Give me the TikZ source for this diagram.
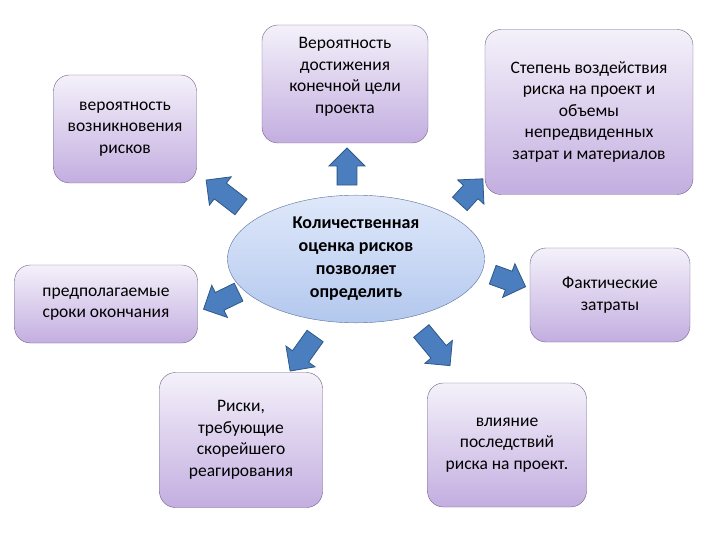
\documentclass[tikz,border=0pt]{standalone}
\usepackage{fontspec}
\setmainfont{Carlito}
\usetikzlibrary{shapes.geometric, shapes.arrows}
\definecolor{boxtop}{HTML}{F4F1FA}
\definecolor{boxbot}{HTML}{C3AEE0}
\definecolor{boxline}{HTML}{6E6288}
\definecolor{elltop}{HTML}{DFE8FA}
\definecolor{ellbot}{HTML}{B3C8EE}
\definecolor{ellline}{HTML}{5A6E98}
\definecolor{arrfill}{HTML}{4A7EBE}
\definecolor{arrline}{HTML}{2E5887}

\begin{document}
\begin{tikzpicture}[x=1pt, y=-1pt,
    card/.style={draw=boxline, top color=boxtop, bottom color=boxbot,
                 rounded corners=16pt, align=center, inner sep=2pt,
                 font=\fontsize{17.5}{21.5}\selectfont},
    blockarr/.style={single arrow, draw=arrline, fill=arrfill, line width=0.8pt,
                     inner xsep=0pt, inner ysep=9.5pt, minimum width=35pt,
                     single arrow head extend=8pt, single arrow head indent=0pt},
]
    \useasboundingbox (0,0) rectangle (720,540);

    % centre
    \node[ellipse, draw=ellline, top color=elltop, bottom color=ellbot,
          minimum width=257pt, minimum height=118pt, align=center,
          font=\fontsize{18}{23}\selectfont\bfseries] (core) at (356,259)
          {Количественная\\оценка рисков\\позволяет\\определить};

    % outer boxes
    \node[card, minimum width=143pt, minimum height=108pt] (origin) at (125,129)
          {вероятность\\возникновения\\рисков};
    \node[card, minimum width=166pt, minimum height=118pt] (goal) at (345,84)
          {Вероятность\\достижения\\конечной цели\\проекта\\[-4pt]};
    \node[card, minimum width=208pt, minimum height=165pt] (impact) at (589,112)
          {Степень воздействия\\риска на проект и\\объемы\\непредвиденных\\затрат и материалов};
    \node[card, minimum width=183pt, minimum height=78pt] (finish) at (106,304)
          {предполагаемые\\сроки окончания};
    \node[card, minimum width=160pt, minimum height=94pt] (costs) at (610,295)
          {Фактические\\затраты};
    \node[card, minimum width=163pt, minimum height=135pt] (urgent) at (241,440)
          {Риски,\\требующие\\скорейшего\\реагирования};
    \node[card, minimum width=159pt, minimum height=124pt] (effect) at (507,445)
          {влияние\\последствий\\риска на проект.};

    % block arrows
    \node[blockarr, minimum height=44pt, rotate=142.4] (toorigin) at (227.5,196.5) {};
    \node[blockarr, minimum height=37pt, rotate=90] (togoal) at (347,171.5) {};
    \node[blockarr, minimum height=34pt, rotate=47.5] (toimpact) at (468,195) {};
    \node[blockarr, minimum height=39pt, rotate=206] (tofinish) at (225.5,298.5) {};
    \node[blockarr, minimum height=35pt, rotate=-20] (tocosts) at (504.5,279) {};
    \node[blockarr, minimum height=43pt, rotate=234.5] (tourgent) at (305.5,349.5) {};
    \node[blockarr, minimum height=45pt, rotate=-50.4] (toeffect) at (432.5,344.5) {};
\end{tikzpicture}
\end{document}
